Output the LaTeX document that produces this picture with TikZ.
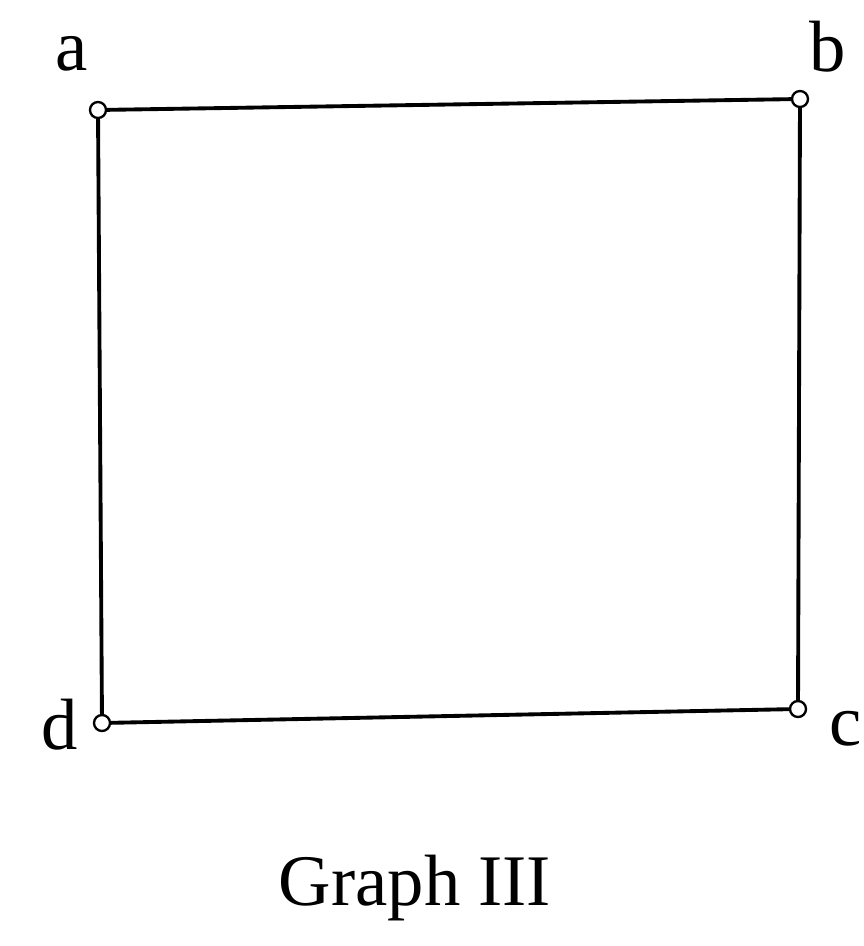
\documentclass[tikz,border=0pt]{standalone}
\usepackage{fontspec}
\setmainfont{Liberation Serif}
\usepackage{tikz}
\usetikzlibrary{positioning}

\begin{document}
\begin{tikzpicture}[x=0.03cm,y=-0.03cm,
    vertex/.style={draw,circle,fill=white,line width=2pt,inner sep=0pt,
                   minimum width=0.48cm,minimum height=0.4cm},
    edgeline/.style={line width=3.3pt},
    vlabel/.style={font=\fontsize{62}{70}\selectfont,inner sep=0pt}]
  \useasboundingbox (0,0) rectangle (864,946);
  % vertices
  \node[vertex] (a) at (98,110) {};
  \node[vertex] (b) at (800,99) {};
  \node[vertex] (c) at (798,709) {};
  \node[vertex] (d) at (102,723) {};
  % edges
  \draw[edgeline] (a) -- (b);
  \draw[edgeline] (b) -- (c);
  \draw[edgeline] (c) -- (d);
  \draw[edgeline] (d) -- (a);
  % vertex names
  \node[vlabel] (la) at (72,54) {a};
  \node[vlabel] (lb) at (828,47) {b};
  \node[vlabel] (lc) at (846,729) {c};
  \node[vlabel] (ld) at (60,725) {d};
  % caption
  \node[vlabel] (title) at (415,888) {Graph III};
\end{tikzpicture}
\end{document}
